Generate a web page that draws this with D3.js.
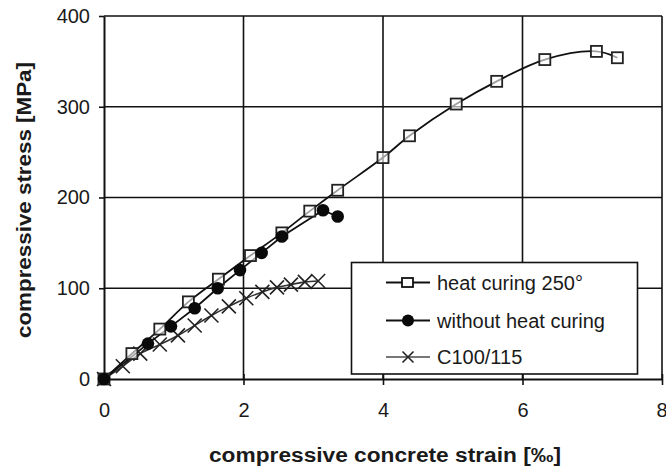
<!DOCTYPE html>
<html><head><meta charset="utf-8">
<script src="https://cdn.jsdelivr.net/npm/d3@7"></script>
<style>
html,body{margin:0;padding:0;background:#fff;}
text{font-family:"Liberation Sans",Arial,sans-serif;fill:#1a1a1a;}
</style></head>
<body>
<svg id="c" width="666" height="475"></svg>
<script>
// ---- data ----
const heatStrain = [0, 0.4, 0.8, 1.21, 1.64, 2.1, 2.55, 2.95, 3.35, 4.0, 4.38, 5.05, 5.63, 6.32, 7.06, 7.36];
const heatStress = [0, 28, 55, 85, 110, 136, 161, 185, 208, 244, 268, 303, 328, 352, 361, 354];
const noHeatStrain = [0, 0.63, 0.96, 1.3, 1.63, 1.95, 2.26, 2.55, 3.14, 3.35];
const noHeatStress = [0, 39, 58, 78, 100, 120, 139, 157, 186, 179];
const c100Strain = [0, 0.27, 0.52, 0.8, 1.06, 1.3, 1.54, 1.79, 2.04, 2.27, 2.48, 2.68, 2.88, 3.07];
const c100Stress = [0, 14, 28, 38, 48, 59, 70, 80, 89, 96, 101, 104, 107, 108];
const xTicks = [0, 2, 4, 6, 8];
const yTicks = [0, 100, 200, 300, 400];
const seriesNames = ["heat curing 250°", "without heat curing", "C100/115"];
const xTitle = "compressive concrete strain [‰]";
const yTitle = "compressive stress [MPa]";

const svg = d3.select("#c");
const x = d3.scaleLinear().domain([0, 8]).range([104, 662]);
const y = d3.scaleLinear().domain([0, 400]).range([379, 16]);

// grid
const g = svg.append("g");
g.selectAll(".vg").data(xTicks.slice(1)).join("line")
  .attr("x1", d => x(d)).attr("x2", d => x(d)).attr("y1", y(0)).attr("y2", y(400))
  .attr("stroke", "#111").attr("stroke-width", 1.6);
g.selectAll(".hg").data(yTicks.slice(1)).join("line")
  .attr("x1", x(0)).attr("x2", x(8)).attr("y1", d => y(d)).attr("y2", d => y(d))
  .attr("stroke", "#111").attr("stroke-width", 1.6);

// axes
const xAxis = svg.append("g").attr("transform", `translate(0,${y(0)})`)
  .call(d3.axisBottom(x).tickValues(xTicks).tickSize(6).tickPadding(18).tickSizeOuter(0));
xAxis.select(".domain").attr("stroke", "#111").attr("stroke-width", 2);
xAxis.selectAll(".tick line").attr("y1", -5).attr("stroke", "#111").attr("stroke-width", 1.6);
xAxis.selectAll(".tick text").style("font-size", "20px").style("font-family", "Liberation Sans, Arial").attr("fill", "#1a1a1a")
  .filter(d => d === 8).attr("text-anchor", "end").attr("dx", 5);

const yAxis = svg.append("g").attr("transform", `translate(${x(0)},0)`)
  .call(d3.axisLeft(y).tickValues(yTicks).tickSize(5).tickPadding(9).tickSizeOuter(0));
yAxis.select(".domain").attr("stroke", "#111").attr("stroke-width", 2);
yAxis.selectAll(".tick line").attr("stroke", "#111").attr("stroke-width", 1.6);
yAxis.selectAll(".tick text").style("font-size", "20px").style("font-family", "Liberation Sans, Arial").attr("fill", "#1a1a1a");

// titles
svg.append("text").attr("x", 385).attr("y", 462).attr("text-anchor", "middle")
  .attr("textLength", 352).attr("lengthAdjust", "spacingAndGlyphs")
  .style("font-size", "20px").style("font-weight", "bold").text(xTitle);
svg.append("text").attr("transform", "translate(31,200) rotate(-90)").attr("text-anchor", "middle")
  .attr("textLength", 276).attr("lengthAdjust", "spacingAndGlyphs")
  .style("font-size", "20px").style("font-weight", "bold").text(yTitle);

const zip = (a, b) => a.map((v, i) => [v, b[i]]);
const heat = zip(heatStrain, heatStress);
const noHeat = zip(noHeatStrain, noHeatStress);
const c100 = zip(c100Strain, c100Stress);

const line = d3.line().x(d => x(d[0])).y(d => y(d[1]));
const smooth = d3.line().x(d => x(d[0])).y(d => y(d[1])).curve(d3.curveCatmullRom);

const plot = svg.append("g");
// C100 line + crosses
plot.append("path").attr("d", smooth(c100)).attr("fill", "none").attr("stroke", "#333").attr("stroke-width", 1.6);
function cross(sel, s) {
  sel.append("path").attr("d", `M${-s},${-s}L${s},${s}M${-s},${s}L${s},${-s}`)
    .attr("stroke", "#222").attr("stroke-width", 1.6).attr("fill", "none");
}
plot.selectAll(".cx").data(c100).join("g")
  .attr("transform", d => `translate(${x(d[0])},${y(d[1])})`)
  .each(function () { cross(d3.select(this), 7); });

// heat curing
plot.append("path").attr("d", smooth(heat)).attr("fill", "none").attr("stroke", "#111").attr("stroke-width", 1.8);
// without heat
plot.append("path").attr("d", line(noHeat)).attr("fill", "none").attr("stroke", "#111").attr("stroke-width", 1.8);

plot.selectAll(".sq").data(heat).join("rect")
  .attr("x", d => x(d[0]) - 5.5).attr("y", d => y(d[1]) - 5.5).attr("width", 11).attr("height", 11)
  .attr("fill", "#fff").attr("fill-opacity", 0.6).attr("stroke", "#222").attr("stroke-width", 1.8);
plot.selectAll(".ci").data(noHeat).join("circle")
  .attr("cx", d => x(d[0])).attr("cy", d => y(d[1])).attr("r", 6.3).attr("fill", "#0a0a0a");

// legend
const lg = svg.append("g");
lg.append("rect").attr("x", 351.5).attr("y", 262.5).attr("width", 286).attr("height", 111.5)
  .attr("fill", "#fff").attr("stroke", "#111").attr("stroke-width", 1.6);
const rows = [282.5, 320.5, 357];
seriesNames.forEach((name, i) => {
  const ry = rows[i];
  lg.append("line").attr("x1", 386).attr("x2", 430).attr("y1", ry).attr("y2", ry)
    .attr("stroke", i === 2 ? "#777" : "#111").attr("stroke-width", 1.8);
  if (i === 0) {
    lg.append("rect").attr("x", 402).attr("y", ry - 4.5).attr("width", 11).attr("height", 9)
      .attr("fill", "#fff").attr("stroke", "#111").attr("stroke-width", 1.8);
  } else if (i === 1) {
    lg.append("circle").attr("cx", 408).attr("cy", ry).attr("r", 6).attr("fill", "#0a0a0a");
  } else {
    const cg = lg.append("g").attr("transform", `translate(408,${ry})`);
    cross(cg, 5.5);
  }
  lg.append("text").attr("x", 437).attr("y", ry + 7).style("font-size", "20px").text(name);
});
</script>
</body></html>
